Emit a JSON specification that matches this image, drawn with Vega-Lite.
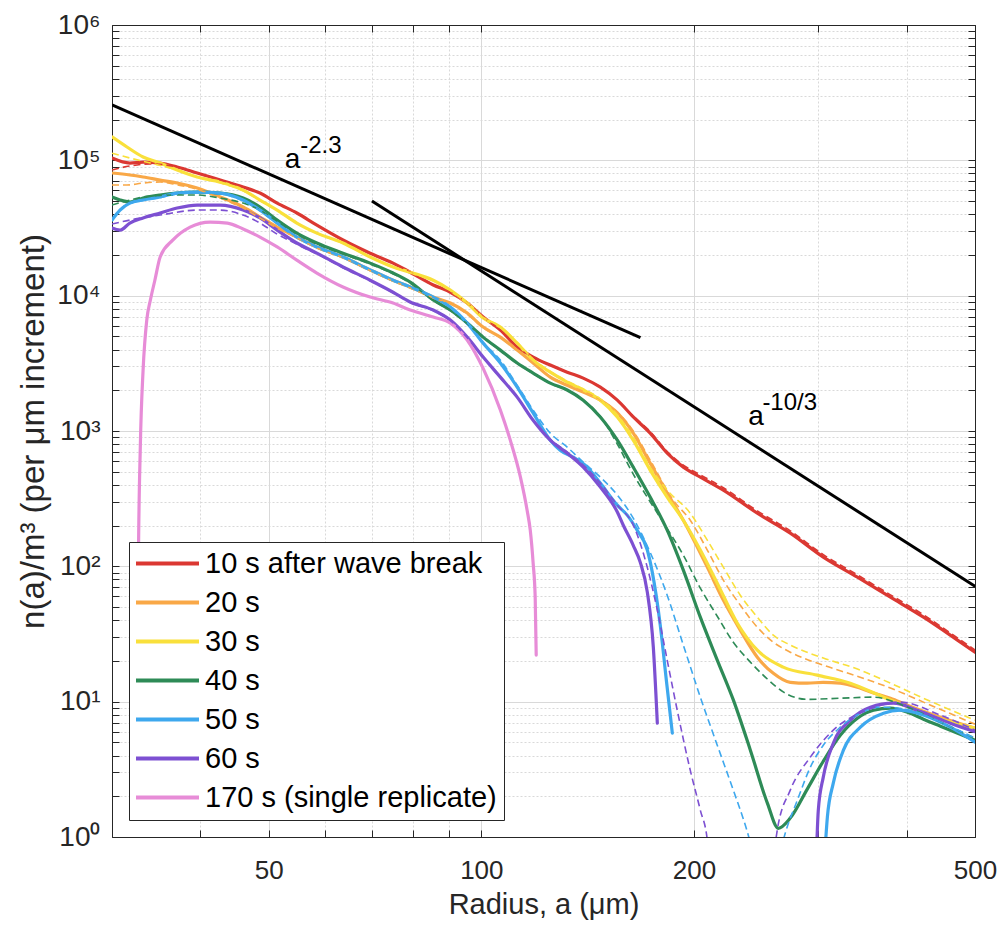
{
  "$schema": "https://vega.github.io/schema/vega-lite/v6.json",
  "width": 863,
  "height": 812,
  "autosize": {"type": "none"},
  "padding": {"left": 112, "top": 25, "right": 28, "bottom": 90},
  "background": "white",
  "config": {
    "font": "Liberation Sans",
    "view": {"stroke": "#262626", "strokeWidth": 1},
    "axis": {
      "labelFont": "Liberation Sans",
      "titleFont": "Liberation Sans",
      "labelColor": "#262626",
      "titleColor": "#262626",
      "domainColor": "#262626",
      "tickColor": "#262626",
      "gridColor": "#d9d9d9",
      "titleFontWeight": "normal",
      "labelOverlap": false,
      "labelFlush": false
    }
  },
  "datasets": {
    "solid": [
      {"series": "10 s after wave break", "seg": 1, "a": 30, "n": 104000},
      {"series": "10 s after wave break", "seg": 1, "a": 31.8, "n": 95500},
      {"series": "10 s after wave break", "seg": 1, "a": 33.2, "n": 97100},
      {"series": "10 s after wave break", "seg": 1, "a": 35.1, "n": 95500},
      {"series": "10 s after wave break", "seg": 1, "a": 37.1, "n": 89300},
      {"series": "10 s after wave break", "seg": 1, "a": 39.6, "n": 80600},
      {"series": "10 s after wave break", "seg": 1, "a": 42.7, "n": 71500},
      {"series": "10 s after wave break", "seg": 1, "a": 46, "n": 63500},
      {"series": "10 s after wave break", "seg": 1, "a": 48.6, "n": 57300},
      {"series": "10 s after wave break", "seg": 1, "a": 51.4, "n": 48300},
      {"series": "10 s after wave break", "seg": 1, "a": 54.8, "n": 40800},
      {"series": "10 s after wave break", "seg": 1, "a": 58.5, "n": 33200},
      {"series": "10 s after wave break", "seg": 1, "a": 63.7, "n": 25800},
      {"series": "10 s after wave break", "seg": 1, "a": 69.6, "n": 20600},
      {"series": "10 s after wave break", "seg": 1, "a": 75, "n": 17400},
      {"series": "10 s after wave break", "seg": 1, "a": 79.3, "n": 14900},
      {"series": "10 s after wave break", "seg": 1, "a": 85.5, "n": 12000},
      {"series": "10 s after wave break", "seg": 1, "a": 90.4, "n": 10600},
      {"series": "10 s after wave break", "seg": 1, "a": 95.5, "n": 8820},
      {"series": "10 s after wave break", "seg": 1, "a": 100.6, "n": 6950},
      {"series": "10 s after wave break", "seg": 1, "a": 106.4, "n": 5570},
      {"series": "10 s after wave break", "seg": 1, "a": 112.4, "n": 4170},
      {"series": "10 s after wave break", "seg": 1, "a": 118.4, "n": 3520},
      {"series": "10 s after wave break", "seg": 1, "a": 125.2, "n": 3070},
      {"series": "10 s after wave break", "seg": 1, "a": 132.3, "n": 2720},
      {"series": "10 s after wave break", "seg": 1, "a": 139.4, "n": 2460},
      {"series": "10 s after wave break", "seg": 1, "a": 147.4, "n": 2110},
      {"series": "10 s after wave break", "seg": 1, "a": 155.8, "n": 1690},
      {"series": "10 s after wave break", "seg": 1, "a": 164.1, "n": 1270},
      {"series": "10 s after wave break", "seg": 1, "a": 173.4, "n": 965},
      {"series": "10 s after wave break", "seg": 1, "a": 183.3, "n": 686},
      {"series": "10 s after wave break", "seg": 1, "a": 193.2, "n": 541},
      {"series": "10 s after wave break", "seg": 1, "a": 204.2, "n": 456},
      {"series": "10 s after wave break", "seg": 1, "a": 220.1, "n": 366},
      {"series": "10 s after wave break", "seg": 1, "a": 245.9, "n": 247},
      {"series": "10 s after wave break", "seg": 1, "a": 273.8, "n": 176},
      {"series": "10 s after wave break", "seg": 1, "a": 304.9, "n": 117},
      {"series": "10 s after wave break", "seg": 1, "a": 340.8, "n": 83.2},
      {"series": "10 s after wave break", "seg": 1, "a": 379.5, "n": 59.2},
      {"series": "10 s after wave break", "seg": 1, "a": 422.7, "n": 42.1},
      {"series": "10 s after wave break", "seg": 1, "a": 472.2, "n": 28.5},
      {"series": "10 s after wave break", "seg": 1, "a": 500, "n": 23.2},

      {"series": "20 s", "seg": 1, "a": 30, "n": 80600},
      {"series": "20 s", "seg": 1, "a": 31.8, "n": 77900},
      {"series": "20 s", "seg": 1, "a": 33.2, "n": 75300},
      {"series": "20 s", "seg": 1, "a": 35.1, "n": 71500},
      {"series": "20 s", "seg": 1, "a": 37.1, "n": 68000},
      {"series": "20 s", "seg": 1, "a": 39.6, "n": 62400},
      {"series": "20 s", "seg": 1, "a": 42.7, "n": 53600},
      {"series": "20 s", "seg": 1, "a": 46, "n": 45200},
      {"series": "20 s", "seg": 1, "a": 48.6, "n": 38100},
      {"series": "20 s", "seg": 1, "a": 51.4, "n": 32100},
      {"series": "20 s", "seg": 1, "a": 54.8, "n": 27100},
      {"series": "20 s", "seg": 1, "a": 58.5, "n": 22900},
      {"series": "20 s", "seg": 1, "a": 63.7, "n": 19300},
      {"series": "20 s", "seg": 1, "a": 69.6, "n": 15500},
      {"series": "20 s", "seg": 1, "a": 75, "n": 13000},
      {"series": "20 s", "seg": 1, "a": 79.3, "n": 11600},
      {"series": "20 s", "seg": 1, "a": 85.5, "n": 9760},
      {"series": "20 s", "seg": 1, "a": 90.4, "n": 8820},
      {"series": "20 s", "seg": 1, "a": 95.5, "n": 7440},
      {"series": "20 s", "seg": 1, "a": 100.6, "n": 5860},
      {"series": "20 s", "seg": 1, "a": 106.4, "n": 4940},
      {"series": "20 s", "seg": 1, "a": 112.4, "n": 3960},
      {"series": "20 s", "seg": 1, "a": 118.4, "n": 3180},
      {"series": "20 s", "seg": 1, "a": 125.2, "n": 2500},
      {"series": "20 s", "seg": 1, "a": 132.3, "n": 2180},
      {"series": "20 s", "seg": 1, "a": 139.4, "n": 1940},
      {"series": "20 s", "seg": 1, "a": 147.4, "n": 1690},
      {"series": "20 s", "seg": 1, "a": 155.8, "n": 1360},
      {"series": "20 s", "seg": 1, "a": 164.1, "n": 965},
      {"series": "20 s", "seg": 1, "a": 173.4, "n": 579},
      {"series": "20 s", "seg": 1, "a": 183.3, "n": 348},
      {"series": "20 s", "seg": 1, "a": 193.2, "n": 219},
      {"series": "20 s", "seg": 1, "a": 208.9, "n": 98.6},
      {"series": "20 s", "seg": 1, "a": 220.1, "n": 56.3},
      {"series": "20 s", "seg": 1, "a": 232.6, "n": 33.8},
      {"series": "20 s", "seg": 1, "a": 245.9, "n": 21.3},
      {"series": "20 s", "seg": 1, "a": 259.1, "n": 16.2},
      {"series": "20 s", "seg": 1, "a": 273.8, "n": 13.9},
      {"series": "20 s", "seg": 1, "a": 289.4, "n": 13.7},
      {"series": "20 s", "seg": 1, "a": 304.9, "n": 13.9},
      {"series": "20 s", "seg": 1, "a": 322.3, "n": 13.7},
      {"series": "20 s", "seg": 1, "a": 340.8, "n": 12.8},
      {"series": "20 s", "seg": 1, "a": 359.1, "n": 11.6},
      {"series": "20 s", "seg": 1, "a": 379.5, "n": 10.6},
      {"series": "20 s", "seg": 1, "a": 401.1, "n": 9.42},
      {"series": "20 s", "seg": 1, "a": 446.7, "n": 7.68},
      {"series": "20 s", "seg": 1, "a": 500, "n": 6.37},

      {"series": "30 s", "seg": 1, "a": 30, "n": 149000},
      {"series": "30 s", "seg": 1, "a": 31.5, "n": 125400},
      {"series": "30 s", "seg": 1, "a": 33.2, "n": 105800},
      {"series": "30 s", "seg": 1, "a": 35.1, "n": 95500},
      {"series": "30 s", "seg": 1, "a": 37.1, "n": 84800},
      {"series": "30 s", "seg": 1, "a": 39.6, "n": 75300},
      {"series": "30 s", "seg": 1, "a": 42.7, "n": 69100},
      {"series": "30 s", "seg": 1, "a": 46, "n": 60300},
      {"series": "30 s", "seg": 1, "a": 48.6, "n": 50900},
      {"series": "30 s", "seg": 1, "a": 51.4, "n": 42900},
      {"series": "30 s", "seg": 1, "a": 54.8, "n": 34400},
      {"series": "30 s", "seg": 1, "a": 58.5, "n": 29000},
      {"series": "30 s", "seg": 1, "a": 63.7, "n": 24500},
      {"series": "30 s", "seg": 1, "a": 69.6, "n": 19300},
      {"series": "30 s", "seg": 1, "a": 75, "n": 16300},
      {"series": "30 s", "seg": 1, "a": 79.3, "n": 14900},
      {"series": "30 s", "seg": 1, "a": 85.5, "n": 13000},
      {"series": "30 s", "seg": 1, "a": 90.4, "n": 11000},
      {"series": "30 s", "seg": 1, "a": 95.5, "n": 8820},
      {"series": "30 s", "seg": 1, "a": 100.6, "n": 6830},
      {"series": "30 s", "seg": 1, "a": 106.4, "n": 5860},
      {"series": "30 s", "seg": 1, "a": 112.4, "n": 4460},
      {"series": "30 s", "seg": 1, "a": 118.4, "n": 3340},
      {"series": "30 s", "seg": 1, "a": 125.2, "n": 2720},
      {"series": "30 s", "seg": 1, "a": 132.3, "n": 2300},
      {"series": "30 s", "seg": 1, "a": 139.4, "n": 2010},
      {"series": "30 s", "seg": 1, "a": 147.4, "n": 1690},
      {"series": "30 s", "seg": 1, "a": 155.8, "n": 1270},
      {"series": "30 s", "seg": 1, "a": 164.1, "n": 856},
      {"series": "30 s", "seg": 1, "a": 173.4, "n": 514},
      {"series": "30 s", "seg": 1, "a": 183.3, "n": 325},
      {"series": "30 s", "seg": 1, "a": 193.2, "n": 219},
      {"series": "30 s", "seg": 1, "a": 204.2, "n": 132},
      {"series": "30 s", "seg": 1, "a": 215.8, "n": 75.1},
      {"series": "30 s", "seg": 1, "a": 230.4, "n": 38},
      {"series": "30 s", "seg": 1, "a": 245.9, "n": 24},
      {"series": "30 s", "seg": 1, "a": 267.6, "n": 18},
      {"series": "30 s", "seg": 1, "a": 299, "n": 15.7},
      {"series": "30 s", "seg": 1, "a": 333, "n": 13.7},
      {"series": "30 s", "seg": 1, "a": 371.1, "n": 10.8},
      {"series": "30 s", "seg": 1, "a": 414.3, "n": 8.65},
      {"series": "30 s", "seg": 1, "a": 461.4, "n": 7.06},
      {"series": "30 s", "seg": 1, "a": 500, "n": 6.37},

      {"series": "40 s", "seg": 1, "a": 30, "n": 53600},
      {"series": "40 s", "seg": 1, "a": 30.8, "n": 50900},
      {"series": "40 s", "seg": 1, "a": 31.8, "n": 49200},
      {"series": "40 s", "seg": 1, "a": 33.2, "n": 52600},
      {"series": "40 s", "seg": 1, "a": 35.1, "n": 55400},
      {"series": "40 s", "seg": 1, "a": 37.1, "n": 57300},
      {"series": "40 s", "seg": 1, "a": 39.6, "n": 58300},
      {"series": "40 s", "seg": 1, "a": 42.7, "n": 57300},
      {"series": "40 s", "seg": 1, "a": 46, "n": 52600},
      {"series": "40 s", "seg": 1, "a": 48.6, "n": 45200},
      {"series": "40 s", "seg": 1, "a": 51.4, "n": 36200},
      {"series": "40 s", "seg": 1, "a": 54.8, "n": 29000},
      {"series": "40 s", "seg": 1, "a": 58.5, "n": 24500},
      {"series": "40 s", "seg": 1, "a": 63.7, "n": 20600},
      {"series": "40 s", "seg": 1, "a": 69.6, "n": 17400},
      {"series": "40 s", "seg": 1, "a": 75, "n": 14700},
      {"series": "40 s", "seg": 1, "a": 79.3, "n": 12600},
      {"series": "40 s", "seg": 1, "a": 85.5, "n": 9300},
      {"series": "40 s", "seg": 1, "a": 90.4, "n": 7830},
      {"series": "40 s", "seg": 1, "a": 95.5, "n": 6270},
      {"series": "40 s", "seg": 1, "a": 100.6, "n": 4940},
      {"series": "40 s", "seg": 1, "a": 106.4, "n": 3960},
      {"series": "40 s", "seg": 1, "a": 112.4, "n": 3180},
      {"series": "40 s", "seg": 1, "a": 118.4, "n": 2680},
      {"series": "40 s", "seg": 1, "a": 125.2, "n": 2260},
      {"series": "40 s", "seg": 1, "a": 132.3, "n": 2010},
      {"series": "40 s", "seg": 1, "a": 139.4, "n": 1690},
      {"series": "40 s", "seg": 1, "a": 147.4, "n": 1270},
      {"series": "40 s", "seg": 1, "a": 155.8, "n": 856},
      {"series": "40 s", "seg": 1, "a": 164.1, "n": 541},
      {"series": "40 s", "seg": 1, "a": 173.4, "n": 325},
      {"series": "40 s", "seg": 1, "a": 183.3, "n": 185},
      {"series": "40 s", "seg": 1, "a": 193.2, "n": 93.7},
      {"series": "40 s", "seg": 1, "a": 204.2, "n": 42.1},
      {"series": "40 s", "seg": 1, "a": 215.8, "n": 20.3},
      {"series": "40 s", "seg": 1, "a": 227.4, "n": 10.3},
      {"series": "40 s", "seg": 1, "a": 240.4, "n": 4.38},
      {"series": "40 s", "seg": 1, "a": 254.1, "n": 1.78},
      {"series": "40 s", "seg": 1, "a": 263.3, "n": 1.16},
      {"series": "40 s", "seg": 1, "a": 273.8, "n": 1.38},
      {"series": "40 s", "seg": 1, "a": 289.4, "n": 2.26},
      {"series": "40 s", "seg": 1, "a": 304.9, "n": 3.63},
      {"series": "40 s", "seg": 1, "a": 322.3, "n": 5.65},
      {"series": "40 s", "seg": 1, "a": 340.8, "n": 7.55},
      {"series": "40 s", "seg": 1, "a": 359.1, "n": 8.65},
      {"series": "40 s", "seg": 1, "a": 379.5, "n": 8.95},
      {"series": "40 s", "seg": 1, "a": 401.1, "n": 8.36},
      {"series": "40 s", "seg": 1, "a": 422.7, "n": 7.42},
      {"series": "40 s", "seg": 1, "a": 446.7, "n": 6.59},
      {"series": "40 s", "seg": 1, "a": 500, "n": 5.19},

      {"series": "50 s", "seg": 1, "a": 30, "n": 36200},
      {"series": "50 s", "seg": 1, "a": 30.8, "n": 42900},
      {"series": "50 s", "seg": 1, "a": 31.8, "n": 48300},
      {"series": "50 s", "seg": 1, "a": 33.2, "n": 50900},
      {"series": "50 s", "seg": 1, "a": 35.1, "n": 53600},
      {"series": "50 s", "seg": 1, "a": 37.1, "n": 57300},
      {"series": "50 s", "seg": 1, "a": 39.6, "n": 58300},
      {"series": "50 s", "seg": 1, "a": 42.7, "n": 57300},
      {"series": "50 s", "seg": 1, "a": 46, "n": 50900},
      {"series": "50 s", "seg": 1, "a": 48.6, "n": 42900},
      {"series": "50 s", "seg": 1, "a": 51.4, "n": 34400},
      {"series": "50 s", "seg": 1, "a": 54.8, "n": 27100},
      {"series": "50 s", "seg": 1, "a": 58.5, "n": 22900},
      {"series": "50 s", "seg": 1, "a": 63.7, "n": 19300},
      {"series": "50 s", "seg": 1, "a": 69.6, "n": 15500},
      {"series": "50 s", "seg": 1, "a": 75, "n": 13000},
      {"series": "50 s", "seg": 1, "a": 79.3, "n": 11600},
      {"series": "50 s", "seg": 1, "a": 85.5, "n": 9760},
      {"series": "50 s", "seg": 1, "a": 90.4, "n": 8240},
      {"series": "50 s", "seg": 1, "a": 95.5, "n": 6270},
      {"series": "50 s", "seg": 1, "a": 100.6, "n": 4460},
      {"series": "50 s", "seg": 1, "a": 106.4, "n": 3180},
      {"series": "50 s", "seg": 1, "a": 112.4, "n": 2110},
      {"series": "50 s", "seg": 1, "a": 118.4, "n": 1360},
      {"series": "50 s", "seg": 1, "a": 125.2, "n": 856},
      {"series": "50 s", "seg": 1, "a": 129.3, "n": 722},
      {"series": "50 s", "seg": 1, "a": 134.9, "n": 641},
      {"series": "50 s", "seg": 1, "a": 141.2, "n": 541},
      {"series": "50 s", "seg": 1, "a": 147.4, "n": 412},
      {"series": "50 s", "seg": 1, "a": 155.8, "n": 283},
      {"series": "50 s", "seg": 1, "a": 160.9, "n": 239},
      {"series": "50 s", "seg": 1, "a": 166.2, "n": 185},
      {"series": "50 s", "seg": 1, "a": 171.8, "n": 132},
      {"series": "50 s", "seg": 1, "a": 174.6, "n": 90.6},
      {"series": "50 s", "seg": 1, "a": 179.2, "n": 36.8},
      {"series": "50 s", "seg": 1, "a": 182.8, "n": 14.4},
      {"series": "50 s", "seg": 1, "a": 186.4, "n": 5.85},
      {"series": "50 s", "seg": 2, "a": 306, "n": 0.67},
      {"series": "50 s", "seg": 2, "a": 309, "n": 1.4},
      {"series": "50 s", "seg": 2, "a": 315, "n": 2.5},
      {"series": "50 s", "seg": 2, "a": 325.6, "n": 4.38},
      {"series": "50 s", "seg": 2, "a": 344.1, "n": 6.48},
      {"series": "50 s", "seg": 2, "a": 371.1, "n": 8.22},
      {"series": "50 s", "seg": 2, "a": 392.1, "n": 8.65},
      {"series": "50 s", "seg": 2, "a": 414.3, "n": 8.22},
      {"series": "50 s", "seg": 2, "a": 461.4, "n": 6.48},
      {"series": "50 s", "seg": 2, "a": 500, "n": 5.02},

      {"series": "60 s", "seg": 1, "a": 30, "n": 31600},
      {"series": "60 s", "seg": 1, "a": 30.8, "n": 30500},
      {"series": "60 s", "seg": 1, "a": 31.8, "n": 34400},
      {"series": "60 s", "seg": 1, "a": 33.2, "n": 37500},
      {"series": "60 s", "seg": 1, "a": 35.1, "n": 40800},
      {"series": "60 s", "seg": 1, "a": 37.1, "n": 44400},
      {"series": "60 s", "seg": 1, "a": 39.6, "n": 46700},
      {"series": "60 s", "seg": 1, "a": 42.7, "n": 46700},
      {"series": "60 s", "seg": 1, "a": 46, "n": 42900},
      {"series": "60 s", "seg": 1, "a": 48.6, "n": 37500},
      {"series": "60 s", "seg": 1, "a": 51.4, "n": 30500},
      {"series": "60 s", "seg": 1, "a": 54.8, "n": 24500},
      {"series": "60 s", "seg": 1, "a": 58.5, "n": 20600},
      {"series": "60 s", "seg": 1, "a": 63.7, "n": 16300},
      {"series": "60 s", "seg": 1, "a": 69.6, "n": 13000},
      {"series": "60 s", "seg": 1, "a": 75, "n": 10600},
      {"series": "60 s", "seg": 1, "a": 79.3, "n": 8970},
      {"series": "60 s", "seg": 1, "a": 85.5, "n": 7830},
      {"series": "60 s", "seg": 1, "a": 90.4, "n": 6600},
      {"series": "60 s", "seg": 1, "a": 95.5, "n": 4940},
      {"series": "60 s", "seg": 1, "a": 100.6, "n": 3520},
      {"series": "60 s", "seg": 1, "a": 106.4, "n": 2500},
      {"series": "60 s", "seg": 1, "a": 112.4, "n": 1780},
      {"series": "60 s", "seg": 1, "a": 118.4, "n": 1200},
      {"series": "60 s", "seg": 1, "a": 125.2, "n": 856},
      {"series": "60 s", "seg": 1, "a": 132.3, "n": 686},
      {"series": "60 s", "seg": 1, "a": 139.4, "n": 541},
      {"series": "60 s", "seg": 1, "a": 147.4, "n": 385},
      {"series": "60 s", "seg": 1, "a": 155.8, "n": 252},
      {"series": "60 s", "seg": 1, "a": 158.8, "n": 202},
      {"series": "60 s", "seg": 1, "a": 164.1, "n": 143},
      {"series": "60 s", "seg": 1, "a": 167.9, "n": 107},
      {"series": "60 s", "seg": 1, "a": 171.8, "n": 64.5},
      {"series": "60 s", "seg": 1, "a": 175.2, "n": 25.3},
      {"series": "60 s", "seg": 1, "a": 177.5, "n": 6.94},
      {"series": "60 s", "seg": 2, "a": 298, "n": 0.67},
      {"series": "60 s", "seg": 2, "a": 300, "n": 1.58},
      {"series": "60 s", "seg": 2, "a": 304.9, "n": 2.77},
      {"series": "60 s", "seg": 2, "a": 315, "n": 4.93},
      {"series": "60 s", "seg": 2, "a": 333, "n": 7.3},
      {"series": "60 s", "seg": 2, "a": 355.5, "n": 9.11},
      {"series": "60 s", "seg": 2, "a": 383.2, "n": 9.75},
      {"series": "60 s", "seg": 2, "a": 414.3, "n": 8.65},
      {"series": "60 s", "seg": 2, "a": 461.4, "n": 6.94},
      {"series": "60 s", "seg": 2, "a": 500, "n": 6},

      {"series": "170 s (single replicate)", "seg": 1, "a": 32.5, "n": 2.5},
      {"series": "170 s (single replicate)", "seg": 1, "a": 32.6, "n": 10.3},
      {"series": "170 s (single replicate)", "seg": 1, "a": 32.7, "n": 111},
      {"series": "170 s (single replicate)", "seg": 1, "a": 32.9, "n": 760},
      {"series": "170 s (single replicate)", "seg": 1, "a": 33.2, "n": 2820},
      {"series": "170 s (single replicate)", "seg": 1, "a": 33.6, "n": 6600},
      {"series": "170 s (single replicate)", "seg": 1, "a": 34, "n": 9280},
      {"series": "170 s (single replicate)", "seg": 1, "a": 34.5, "n": 13000},
      {"series": "170 s (single replicate)", "seg": 1, "a": 35.1, "n": 19300},
      {"series": "170 s (single replicate)", "seg": 1, "a": 36.6, "n": 25800},
      {"series": "170 s (single replicate)", "seg": 1, "a": 38.7, "n": 32100},
      {"series": "170 s (single replicate)", "seg": 1, "a": 41.3, "n": 35000},
      {"series": "170 s (single replicate)", "seg": 1, "a": 43.7, "n": 34400},
      {"series": "170 s (single replicate)", "seg": 1, "a": 46, "n": 31100},
      {"series": "170 s (single replicate)", "seg": 1, "a": 48.6, "n": 27100},
      {"series": "170 s (single replicate)", "seg": 1, "a": 51.4, "n": 22900},
      {"series": "170 s (single replicate)", "seg": 1, "a": 54.8, "n": 18300},
      {"series": "170 s (single replicate)", "seg": 1, "a": 58.5, "n": 14700},
      {"series": "170 s (single replicate)", "seg": 1, "a": 63.7, "n": 11600},
      {"series": "170 s (single replicate)", "seg": 1, "a": 69.6, "n": 9760},
      {"series": "170 s (single replicate)", "seg": 1, "a": 75, "n": 8820},
      {"series": "170 s (single replicate)", "seg": 1, "a": 79.3, "n": 7830},
      {"series": "170 s (single replicate)", "seg": 1, "a": 85.5, "n": 6950},
      {"series": "170 s (single replicate)", "seg": 1, "a": 90.4, "n": 6270},
      {"series": "170 s (single replicate)", "seg": 1, "a": 95.5, "n": 4700},
      {"series": "170 s (single replicate)", "seg": 1, "a": 100.6, "n": 2900},
      {"series": "170 s (single replicate)", "seg": 1, "a": 106.4, "n": 1430},
      {"series": "170 s (single replicate)", "seg": 1, "a": 109.9, "n": 856},
      {"series": "170 s (single replicate)", "seg": 1, "a": 113.6, "n": 456},
      {"series": "170 s (single replicate)", "seg": 1, "a": 116.1, "n": 260},
      {"series": "170 s (single replicate)", "seg": 1, "a": 117.3, "n": 185},
      {"series": "170 s (single replicate)", "seg": 1, "a": 118.4, "n": 106},
      {"series": "170 s (single replicate)", "seg": 1, "a": 119.2, "n": 59.2},
      {"series": "170 s (single replicate)", "seg": 1, "a": 119.6, "n": 22.1}
    ],
    "dashed": [
      {"series": "10 s after wave break", "seg": 1, "a": 30, "n": 84800},
      {"series": "10 s after wave break", "seg": 1, "a": 31.8, "n": 90800},
      {"series": "10 s after wave break", "seg": 1, "a": 34, "n": 93900},
      {"series": "10 s after wave break", "seg": 1, "a": 37.1, "n": 89300},
      {"series": "10 s after wave break", "seg": 1, "a": 39.6, "n": 80600},
      {"series": "10 s after wave break", "seg": 1, "a": 42.7, "n": 71500},
      {"series": "10 s after wave break", "seg": 1, "a": 46, "n": 63500},
      {"series": "10 s after wave break", "seg": 1, "a": 48.6, "n": 57300},
      {"series": "10 s after wave break", "seg": 1, "a": 51.4, "n": 48300},
      {"series": "10 s after wave break", "seg": 1, "a": 54.8, "n": 40800},
      {"series": "10 s after wave break", "seg": 1, "a": 58.5, "n": 33200},
      {"series": "10 s after wave break", "seg": 1, "a": 63.7, "n": 25800},
      {"series": "10 s after wave break", "seg": 1, "a": 69.6, "n": 20600},
      {"series": "10 s after wave break", "seg": 1, "a": 75, "n": 17400},
      {"series": "10 s after wave break", "seg": 1, "a": 79.3, "n": 14900},
      {"series": "10 s after wave break", "seg": 1, "a": 85.5, "n": 12000},
      {"series": "10 s after wave break", "seg": 1, "a": 90.4, "n": 10600},
      {"series": "10 s after wave break", "seg": 1, "a": 95.5, "n": 8820},
      {"series": "10 s after wave break", "seg": 1, "a": 100.6, "n": 6950},
      {"series": "10 s after wave break", "seg": 1, "a": 106.4, "n": 5570},
      {"series": "10 s after wave break", "seg": 1, "a": 112.4, "n": 4170},
      {"series": "10 s after wave break", "seg": 1, "a": 118.4, "n": 3520},
      {"series": "10 s after wave break", "seg": 1, "a": 125.2, "n": 3070},
      {"series": "10 s after wave break", "seg": 1, "a": 132.3, "n": 2720},
      {"series": "10 s after wave break", "seg": 1, "a": 139.4, "n": 2460},
      {"series": "10 s after wave break", "seg": 1, "a": 147.4, "n": 2110},
      {"series": "10 s after wave break", "seg": 1, "a": 155.8, "n": 1690},
      {"series": "10 s after wave break", "seg": 1, "a": 164.1, "n": 1290},
      {"series": "10 s after wave break", "seg": 1, "a": 173.4, "n": 990},
      {"series": "10 s after wave break", "seg": 1, "a": 183.3, "n": 705},
      {"series": "10 s after wave break", "seg": 1, "a": 193.2, "n": 560},
      {"series": "10 s after wave break", "seg": 1, "a": 204.2, "n": 474},
      {"series": "10 s after wave break", "seg": 1, "a": 220.1, "n": 381},
      {"series": "10 s after wave break", "seg": 1, "a": 245.9, "n": 257},
      {"series": "10 s after wave break", "seg": 1, "a": 273.8, "n": 183},
      {"series": "10 s after wave break", "seg": 1, "a": 304.9, "n": 122},
      {"series": "10 s after wave break", "seg": 1, "a": 340.8, "n": 86.5},
      {"series": "10 s after wave break", "seg": 1, "a": 379.5, "n": 61.6},
      {"series": "10 s after wave break", "seg": 1, "a": 422.7, "n": 43.8},
      {"series": "10 s after wave break", "seg": 1, "a": 472.2, "n": 29.6},
      {"series": "10 s after wave break", "seg": 1, "a": 500, "n": 24.1},

      {"series": "20 s", "seg": 1, "a": 30, "n": 65700},
      {"series": "20 s", "seg": 1, "a": 31.5, "n": 65700},
      {"series": "20 s", "seg": 1, "a": 33.2, "n": 68000},
      {"series": "20 s", "seg": 1, "a": 35.1, "n": 69100},
      {"series": "20 s", "seg": 1, "a": 37.1, "n": 66000},
      {"series": "20 s", "seg": 1, "a": 39.6, "n": 61000},
      {"series": "20 s", "seg": 1, "a": 42.7, "n": 52600},
      {"series": "20 s", "seg": 1, "a": 46, "n": 44400},
      {"series": "20 s", "seg": 1, "a": 48.6, "n": 37500},
      {"series": "20 s", "seg": 1, "a": 51.4, "n": 31600},
      {"series": "20 s", "seg": 1, "a": 54.8, "n": 26700},
      {"series": "20 s", "seg": 1, "a": 58.5, "n": 22500},
      {"series": "20 s", "seg": 1, "a": 63.7, "n": 19000},
      {"series": "20 s", "seg": 1, "a": 69.6, "n": 15300},
      {"series": "20 s", "seg": 1, "a": 75, "n": 12800},
      {"series": "20 s", "seg": 1, "a": 79.3, "n": 11400},
      {"series": "20 s", "seg": 1, "a": 85.5, "n": 9600},
      {"series": "20 s", "seg": 1, "a": 90.4, "n": 8700},
      {"series": "20 s", "seg": 1, "a": 95.5, "n": 7300},
      {"series": "20 s", "seg": 1, "a": 100.6, "n": 5800},
      {"series": "20 s", "seg": 1, "a": 106.4, "n": 4900},
      {"series": "20 s", "seg": 1, "a": 112.4, "n": 3950},
      {"series": "20 s", "seg": 1, "a": 118.4, "n": 3180},
      {"series": "20 s", "seg": 1, "a": 125.2, "n": 2520},
      {"series": "20 s", "seg": 1, "a": 132.3, "n": 2200},
      {"series": "20 s", "seg": 1, "a": 139.4, "n": 1960},
      {"series": "20 s", "seg": 1, "a": 147.4, "n": 1700},
      {"series": "20 s", "seg": 1, "a": 155.8, "n": 1380},
      {"series": "20 s", "seg": 1, "a": 164.1, "n": 1000},
      {"series": "20 s", "seg": 1, "a": 173.4, "n": 609},
      {"series": "20 s", "seg": 1, "a": 187, "n": 308},
      {"series": "20 s", "seg": 1, "a": 197.6, "n": 219},
      {"series": "20 s", "seg": 1, "a": 208.9, "n": 132},
      {"series": "20 s", "seg": 1, "a": 220.1, "n": 79.1},
      {"series": "20 s", "seg": 1, "a": 232.6, "n": 51.7},
      {"series": "20 s", "seg": 1, "a": 245.9, "n": 35.5},
      {"series": "20 s", "seg": 1, "a": 259.1, "n": 27.5},
      {"series": "20 s", "seg": 1, "a": 273.8, "n": 23.2},
      {"series": "20 s", "seg": 1, "a": 304.9, "n": 18.6},
      {"series": "20 s", "seg": 1, "a": 340.8, "n": 15.4},
      {"series": "20 s", "seg": 1, "a": 379.5, "n": 12.6},
      {"series": "20 s", "seg": 1, "a": 422.7, "n": 9.92},
      {"series": "20 s", "seg": 1, "a": 500, "n": 6.82},

      {"series": "30 s", "seg": 1, "a": 30, "n": 113000},
      {"series": "30 s", "seg": 1, "a": 31.8, "n": 104000},
      {"series": "30 s", "seg": 1, "a": 34, "n": 95500},
      {"series": "30 s", "seg": 1, "a": 37.1, "n": 84800},
      {"series": "30 s", "seg": 1, "a": 39.6, "n": 75300},
      {"series": "30 s", "seg": 1, "a": 42.7, "n": 68000},
      {"series": "30 s", "seg": 1, "a": 46, "n": 59500},
      {"series": "30 s", "seg": 1, "a": 48.6, "n": 50500},
      {"series": "30 s", "seg": 1, "a": 51.4, "n": 42500},
      {"series": "30 s", "seg": 1, "a": 54.8, "n": 34200},
      {"series": "30 s", "seg": 1, "a": 58.5, "n": 28800},
      {"series": "30 s", "seg": 1, "a": 63.7, "n": 24300},
      {"series": "30 s", "seg": 1, "a": 69.6, "n": 19200},
      {"series": "30 s", "seg": 1, "a": 75, "n": 16200},
      {"series": "30 s", "seg": 1, "a": 79.3, "n": 14800},
      {"series": "30 s", "seg": 1, "a": 85.5, "n": 12900},
      {"series": "30 s", "seg": 1, "a": 90.4, "n": 10900},
      {"series": "30 s", "seg": 1, "a": 95.5, "n": 8800},
      {"series": "30 s", "seg": 1, "a": 100.6, "n": 6900},
      {"series": "30 s", "seg": 1, "a": 106.4, "n": 5900},
      {"series": "30 s", "seg": 1, "a": 112.4, "n": 4500},
      {"series": "30 s", "seg": 1, "a": 118.4, "n": 3400},
      {"series": "30 s", "seg": 1, "a": 125.2, "n": 2760},
      {"series": "30 s", "seg": 1, "a": 132.3, "n": 2340},
      {"series": "30 s", "seg": 1, "a": 139.4, "n": 2050},
      {"series": "30 s", "seg": 1, "a": 147.4, "n": 1730},
      {"series": "30 s", "seg": 1, "a": 155.8, "n": 1320},
      {"series": "30 s", "seg": 1, "a": 164.1, "n": 900},
      {"series": "30 s", "seg": 1, "a": 173.4, "n": 541},
      {"series": "30 s", "seg": 1, "a": 183.3, "n": 366},
      {"series": "30 s", "seg": 1, "a": 197.6, "n": 247},
      {"series": "30 s", "seg": 1, "a": 208.9, "n": 156},
      {"series": "30 s", "seg": 1, "a": 220.1, "n": 98.6},
      {"series": "30 s", "seg": 1, "a": 232.6, "n": 61.2},
      {"series": "30 s", "seg": 1, "a": 245.9, "n": 42.1},
      {"series": "30 s", "seg": 1, "a": 259.1, "n": 31},
      {"series": "30 s", "seg": 1, "a": 273.8, "n": 26.2},
      {"series": "30 s", "seg": 1, "a": 304.9, "n": 21},
      {"series": "30 s", "seg": 1, "a": 340.8, "n": 17.4},
      {"series": "30 s", "seg": 1, "a": 379.5, "n": 13.7},
      {"series": "30 s", "seg": 1, "a": 422.7, "n": 10.6},
      {"series": "30 s", "seg": 1, "a": 500, "n": 7.3},

      {"series": "40 s", "seg": 1, "a": 30, "n": 46700},
      {"series": "40 s", "seg": 1, "a": 31.8, "n": 50900},
      {"series": "40 s", "seg": 1, "a": 34, "n": 54500},
      {"series": "40 s", "seg": 1, "a": 37.1, "n": 55400},
      {"series": "40 s", "seg": 1, "a": 39.6, "n": 55400},
      {"series": "40 s", "seg": 1, "a": 42.7, "n": 52600},
      {"series": "40 s", "seg": 1, "a": 46, "n": 48300},
      {"series": "40 s", "seg": 1, "a": 48.6, "n": 42900},
      {"series": "40 s", "seg": 1, "a": 51.4, "n": 35500},
      {"series": "40 s", "seg": 1, "a": 54.8, "n": 28500},
      {"series": "40 s", "seg": 1, "a": 58.5, "n": 24000},
      {"series": "40 s", "seg": 1, "a": 63.7, "n": 20300},
      {"series": "40 s", "seg": 1, "a": 69.6, "n": 17100},
      {"series": "40 s", "seg": 1, "a": 75, "n": 14500},
      {"series": "40 s", "seg": 1, "a": 79.3, "n": 12400},
      {"series": "40 s", "seg": 1, "a": 85.5, "n": 9200},
      {"series": "40 s", "seg": 1, "a": 90.4, "n": 7750},
      {"series": "40 s", "seg": 1, "a": 95.5, "n": 6200},
      {"series": "40 s", "seg": 1, "a": 100.6, "n": 4900},
      {"series": "40 s", "seg": 1, "a": 106.4, "n": 3930},
      {"series": "40 s", "seg": 1, "a": 112.4, "n": 3160},
      {"series": "40 s", "seg": 1, "a": 118.4, "n": 2660},
      {"series": "40 s", "seg": 1, "a": 125.2, "n": 2240},
      {"series": "40 s", "seg": 1, "a": 132.3, "n": 2000},
      {"series": "40 s", "seg": 1, "a": 139.4, "n": 1690},
      {"series": "40 s", "seg": 1, "a": 147.4, "n": 1280},
      {"series": "40 s", "seg": 1, "a": 155.8, "n": 800},
      {"series": "40 s", "seg": 1, "a": 164.1, "n": 480},
      {"series": "40 s", "seg": 1, "a": 173.4, "n": 300},
      {"series": "40 s", "seg": 1, "a": 183.3, "n": 190},
      {"series": "40 s", "seg": 1, "a": 193.2, "n": 121},
      {"series": "40 s", "seg": 1, "a": 204.2, "n": 69},
      {"series": "40 s", "seg": 1, "a": 215.8, "n": 42.8},
      {"series": "40 s", "seg": 1, "a": 227.4, "n": 27.5},
      {"series": "40 s", "seg": 1, "a": 240.4, "n": 19.6},
      {"series": "40 s", "seg": 1, "a": 254.1, "n": 14.7},
      {"series": "40 s", "seg": 1, "a": 267.6, "n": 11.8},
      {"series": "40 s", "seg": 1, "a": 289.4, "n": 10.4},
      {"series": "40 s", "seg": 1, "a": 322.3, "n": 10.6},
      {"series": "40 s", "seg": 1, "a": 359.1, "n": 10.8},
      {"series": "40 s", "seg": 1, "a": 401.1, "n": 9.11},
      {"series": "40 s", "seg": 1, "a": 446.7, "n": 7.06},
      {"series": "40 s", "seg": 1, "a": 500, "n": 5.37},

      {"series": "50 s", "seg": 1, "a": 30, "n": 37000},
      {"series": "50 s", "seg": 1, "a": 30.8, "n": 43500},
      {"series": "50 s", "seg": 1, "a": 31.8, "n": 48000},
      {"series": "50 s", "seg": 1, "a": 33.2, "n": 50500},
      {"series": "50 s", "seg": 1, "a": 35.1, "n": 53000},
      {"series": "50 s", "seg": 1, "a": 37.1, "n": 56500},
      {"series": "50 s", "seg": 1, "a": 39.6, "n": 57500},
      {"series": "50 s", "seg": 1, "a": 42.7, "n": 56500},
      {"series": "50 s", "seg": 1, "a": 46, "n": 50000},
      {"series": "50 s", "seg": 1, "a": 48.6, "n": 42500},
      {"series": "50 s", "seg": 1, "a": 51.4, "n": 34000},
      {"series": "50 s", "seg": 1, "a": 54.8, "n": 27000},
      {"series": "50 s", "seg": 1, "a": 58.5, "n": 22700},
      {"series": "50 s", "seg": 1, "a": 63.7, "n": 19100},
      {"series": "50 s", "seg": 1, "a": 69.6, "n": 15400},
      {"series": "50 s", "seg": 1, "a": 75, "n": 12900},
      {"series": "50 s", "seg": 1, "a": 79.3, "n": 11500},
      {"series": "50 s", "seg": 1, "a": 85.5, "n": 9700},
      {"series": "50 s", "seg": 1, "a": 90.4, "n": 8200},
      {"series": "50 s", "seg": 1, "a": 95.5, "n": 6300},
      {"series": "50 s", "seg": 1, "a": 100.6, "n": 4500},
      {"series": "50 s", "seg": 1, "a": 106.4, "n": 3340},
      {"series": "50 s", "seg": 1, "a": 112.4, "n": 2180},
      {"series": "50 s", "seg": 1, "a": 118.4, "n": 1430},
      {"series": "50 s", "seg": 1, "a": 125.2, "n": 965},
      {"series": "50 s", "seg": 1, "a": 132.3, "n": 760},
      {"series": "50 s", "seg": 1, "a": 139.4, "n": 589},
      {"series": "50 s", "seg": 1, "a": 147.4, "n": 456},
      {"series": "50 s", "seg": 1, "a": 155.8, "n": 336},
      {"series": "50 s", "seg": 1, "a": 164.1, "n": 227},
      {"series": "50 s", "seg": 1, "a": 173.4, "n": 127},
      {"series": "50 s", "seg": 1, "a": 183.3, "n": 61.2},
      {"series": "50 s", "seg": 1, "a": 193.2, "n": 26.2},
      {"series": "50 s", "seg": 1, "a": 204.2, "n": 10.8},
      {"series": "50 s", "seg": 1, "a": 215.8, "n": 4.77},
      {"series": "50 s", "seg": 1, "a": 227.4, "n": 2.22},
      {"series": "50 s", "seg": 1, "a": 236.5, "n": 1.22},
      {"series": "50 s", "seg": 1, "a": 244.3, "n": 0.67},
      {"series": "50 s", "seg": 2, "a": 263.3, "n": 0.67},
      {"series": "50 s", "seg": 2, "a": 269.4, "n": 1.07},
      {"series": "50 s", "seg": 2, "a": 280.2, "n": 1.87},
      {"series": "50 s", "seg": 2, "a": 292.3, "n": 3.28},
      {"series": "50 s", "seg": 2, "a": 304.9, "n": 4.77},
      {"series": "50 s", "seg": 2, "a": 322.3, "n": 6.48},
      {"series": "50 s", "seg": 2, "a": 344.1, "n": 8.22},
      {"series": "50 s", "seg": 2, "a": 367.2, "n": 9.11},
      {"series": "50 s", "seg": 2, "a": 405, "n": 8.65},
      {"series": "50 s", "seg": 2, "a": 446.7, "n": 7.06},
      {"series": "50 s", "seg": 2, "a": 500, "n": 5.37},

      {"series": "60 s", "seg": 1, "a": 30, "n": 33800},
      {"series": "60 s", "seg": 1, "a": 31.8, "n": 36200},
      {"series": "60 s", "seg": 1, "a": 35.1, "n": 39400},
      {"series": "60 s", "seg": 1, "a": 39.6, "n": 42900},
      {"series": "60 s", "seg": 1, "a": 42.7, "n": 42900},
      {"series": "60 s", "seg": 1, "a": 46, "n": 39400},
      {"series": "60 s", "seg": 1, "a": 48.6, "n": 34400},
      {"series": "60 s", "seg": 1, "a": 51.4, "n": 28500},
      {"series": "60 s", "seg": 1, "a": 54.8, "n": 24000},
      {"series": "60 s", "seg": 1, "a": 58.5, "n": 20300},
      {"series": "60 s", "seg": 1, "a": 63.7, "n": 16100},
      {"series": "60 s", "seg": 1, "a": 69.6, "n": 12900},
      {"series": "60 s", "seg": 1, "a": 75, "n": 10500},
      {"series": "60 s", "seg": 1, "a": 79.3, "n": 8900},
      {"series": "60 s", "seg": 1, "a": 85.5, "n": 7750},
      {"series": "60 s", "seg": 1, "a": 90.4, "n": 6550},
      {"series": "60 s", "seg": 1, "a": 95.5, "n": 4900},
      {"series": "60 s", "seg": 1, "a": 100.6, "n": 3500},
      {"series": "60 s", "seg": 1, "a": 106.4, "n": 2480},
      {"series": "60 s", "seg": 1, "a": 112.4, "n": 1780},
      {"series": "60 s", "seg": 1, "a": 118.4, "n": 1200},
      {"series": "60 s", "seg": 1, "a": 125.2, "n": 870},
      {"series": "60 s", "seg": 1, "a": 132.3, "n": 700},
      {"series": "60 s", "seg": 1, "a": 139.4, "n": 560},
      {"series": "60 s", "seg": 1, "a": 147.4, "n": 412},
      {"series": "60 s", "seg": 1, "a": 155.8, "n": 283},
      {"series": "60 s", "seg": 1, "a": 164.1, "n": 202},
      {"series": "60 s", "seg": 1, "a": 170.7, "n": 111},
      {"series": "60 s", "seg": 1, "a": 177.5, "n": 47.5},
      {"series": "60 s", "seg": 1, "a": 183.3, "n": 20.3},
      {"series": "60 s", "seg": 1, "a": 189.4, "n": 8.65},
      {"series": "60 s", "seg": 1, "a": 197.6, "n": 3.12},
      {"series": "60 s", "seg": 1, "a": 204.2, "n": 1.58},
      {"series": "60 s", "seg": 1, "a": 208.9, "n": 0.95},
      {"series": "60 s", "seg": 1, "a": 210.9, "n": 0.57},
      {"series": "60 s", "seg": 2, "a": 258.2, "n": 0.57},
      {"series": "60 s", "seg": 2, "a": 262.4, "n": 1.12},
      {"series": "60 s", "seg": 2, "a": 273.8, "n": 2.22},
      {"series": "60 s", "seg": 2, "a": 292.3, "n": 3.89},
      {"series": "60 s", "seg": 2, "a": 315, "n": 6.16},
      {"series": "60 s", "seg": 2, "a": 352, "n": 8.65},
      {"series": "60 s", "seg": 2, "a": 392.1, "n": 9.92},
      {"series": "60 s", "seg": 2, "a": 446.7, "n": 7.95},
      {"series": "60 s", "seg": 2, "a": 500, "n": 6.16}
    ],
    "power": [
      {"law": "a^-2.3", "a": 30, "n": 257000},
      {"law": "a^-2.3", "a": 168, "n": 4890},
      {"law": "a^-10/3", "a": 70, "n": 50000},
      {"law": "a^-10/3", "a": 500, "n": 71.2}
    ],
    "notes": [
      {"part": "base", "a": 52.7, "n": 87700, "t": "a"},
      {"part": "sup", "a": 55.4, "n": 113000, "t": "-2.3"},
      {"part": "base", "a": 238.8, "n": 1105, "t": "a"},
      {"part": "sup", "a": 250, "n": 1427, "t": "-10/3"}
    ]
  },
  "layer": [
    {
      "encoding": {
        "x": {
          "field": "a",
          "type": "quantitative",
          "scale": {"type": "log", "domain": [30, 500], "nice": false},
          "axis": {
            "values": [40, 50, 60, 70, 80, 90, 100, 200, 300, 400, 500],
            "labelExpr": "indexof([50,100,200,500], datum.value) >= 0 ? '' + datum.value : ''",
            "labelFontSize": 26,
            "labelPadding": 27,
            "tickSize": -7,
            "grid": true,
            "gridDash": {"condition": {"test": "indexof([50,100,200,500], datum.value) >= 0", "value": []}, "value": [2, 2]},
            "title": "Radius, a (μm)",
            "titleFontSize": 29,
            "titlePadding": 7
          }
        },
        "y": {
          "field": "n",
          "type": "quantitative",
          "scale": {"type": "log", "domain": [1, 1000000], "nice": false},
          "axis": {
            "values": [1, 2, 3, 4, 5, 6, 7, 8, 9, 10, 20, 30, 40, 50, 60, 70, 80, 90, 100, 200, 300, 400, 500, 600, 700, 800, 900, 1000, 2000, 3000, 4000, 5000, 6000, 7000, 8000, 9000, 10000, 20000, 30000, 40000, 50000, 60000, 70000, 80000, 90000, 100000, 200000, 300000, 400000, 500000, 600000, 700000, 800000, 900000, 1000000],
            "labelExpr": "abs(log(datum.value)/LN10 - round(log(datum.value)/LN10)) < 0.001 ? '10' + ['⁰','¹','²','³','⁴','⁵','⁶'][round(log(datum.value)/LN10)] : ''",
            "labelFontSize": 28,
            "labelPadding": 19,
            "tickSize": -7,
            "grid": true,
            "gridDash": {"condition": {"test": "abs(log(datum.value)/LN10 - round(log(datum.value)/LN10)) < 0.001", "value": []}, "value": [2, 2]},
            "title": "n(a)/m³ (per μm increment)",
            "titleFontSize": 33,
            "titlePadding": 6
          }
        }
      },
      "layer": [
        {
          "data": {"name": "solid"},
          "mark": {"type": "line", "strokeWidth": 3.2, "interpolate": "monotone", "clip": true, "strokeJoin": "round", "strokeCap": "round"},
          "encoding": {
            "color": {
              "field": "series",
              "type": "nominal",
              "scale": {
                "domain": ["10 s after wave break", "20 s", "30 s", "40 s", "50 s", "60 s", "170 s (single replicate)"],
                "range": ["#DB3832", "#F9A847", "#F9E03B", "#2E8B57", "#3EA8EE", "#7D50D2", "#E78CD7"]
              },
              "legend": {
                "title": null,
                "orient": "bottom-left",
                "offset": 17,
                "symbolType": "M-3,0H3",
                "symbolSize": 441,
                "symbolStrokeWidth": 4,
                "symbolOffset": 17,
                "labelOffset": 23,
                "labelFontSize": 29,
                "labelFont": "Liberation Sans",
                "labelColor": "#000000",
                "labelLimit": 500,
                "rowPadding": 9,
                "padding": 7,
                "strokeColor": "#262626",
                "fillColor": "white"
              }
            },
            "detail": {"field": "seg"}
          }
        },
        {
          "data": {"name": "dashed"},
          "mark": {"type": "line", "strokeWidth": 1.6, "strokeDash": [7, 4], "interpolate": "monotone", "clip": true},
          "encoding": {
            "color": {"field": "series", "type": "nominal"},
            "detail": {"field": "seg"}
          }
        },
        {
          "data": {"name": "power"},
          "mark": {"type": "line", "stroke": "#000000", "strokeWidth": 3, "clip": true},
          "encoding": {"detail": {"field": "law"}}
        },
        {
          "data": {"name": "notes"},
          "transform": [{"filter": "datum.part === 'base'"}],
          "mark": {"type": "text", "align": "left", "baseline": "alphabetic", "fontSize": 28, "font": "Liberation Sans", "color": "#000000"},
          "encoding": {"text": {"field": "t"}}
        },
        {
          "data": {"name": "notes"},
          "transform": [{"filter": "datum.part === 'sup'"}],
          "mark": {"type": "text", "align": "left", "baseline": "alphabetic", "fontSize": 24, "font": "Liberation Sans", "color": "#000000"},
          "encoding": {"text": {"field": "t"}}
        }
      ]
    },
    {
      "data": {"name": "power"},
      "mark": {"type": "line", "opacity": 0},
      "encoding": {
        "x": {
          "field": "a",
          "type": "quantitative",
          "axis": {
            "orient": "top",
            "values": [40, 50, 60, 70, 80, 90, 100, 200, 300, 400, 500],
            "labels": false,
            "tickSize": -7,
            "grid": false,
            "title": null
          }
        },
        "y": {
          "field": "n",
          "type": "quantitative",
          "axis": {
            "orient": "right",
            "values": [1, 2, 3, 4, 5, 6, 7, 8, 9, 10, 20, 30, 40, 50, 60, 70, 80, 90, 100, 200, 300, 400, 500, 600, 700, 800, 900, 1000, 2000, 3000, 4000, 5000, 6000, 7000, 8000, 9000, 10000, 20000, 30000, 40000, 50000, 60000, 70000, 80000, 90000, 100000, 200000, 300000, 400000, 500000, 600000, 700000, 800000, 900000, 1000000],
            "labels": false,
            "tickSize": -7,
            "grid": false,
            "title": null
          }
        },
        "detail": {"field": "law"}
      }
    }
  ],
  "resolve": {"axis": {"x": "independent", "y": "independent"}}
}
